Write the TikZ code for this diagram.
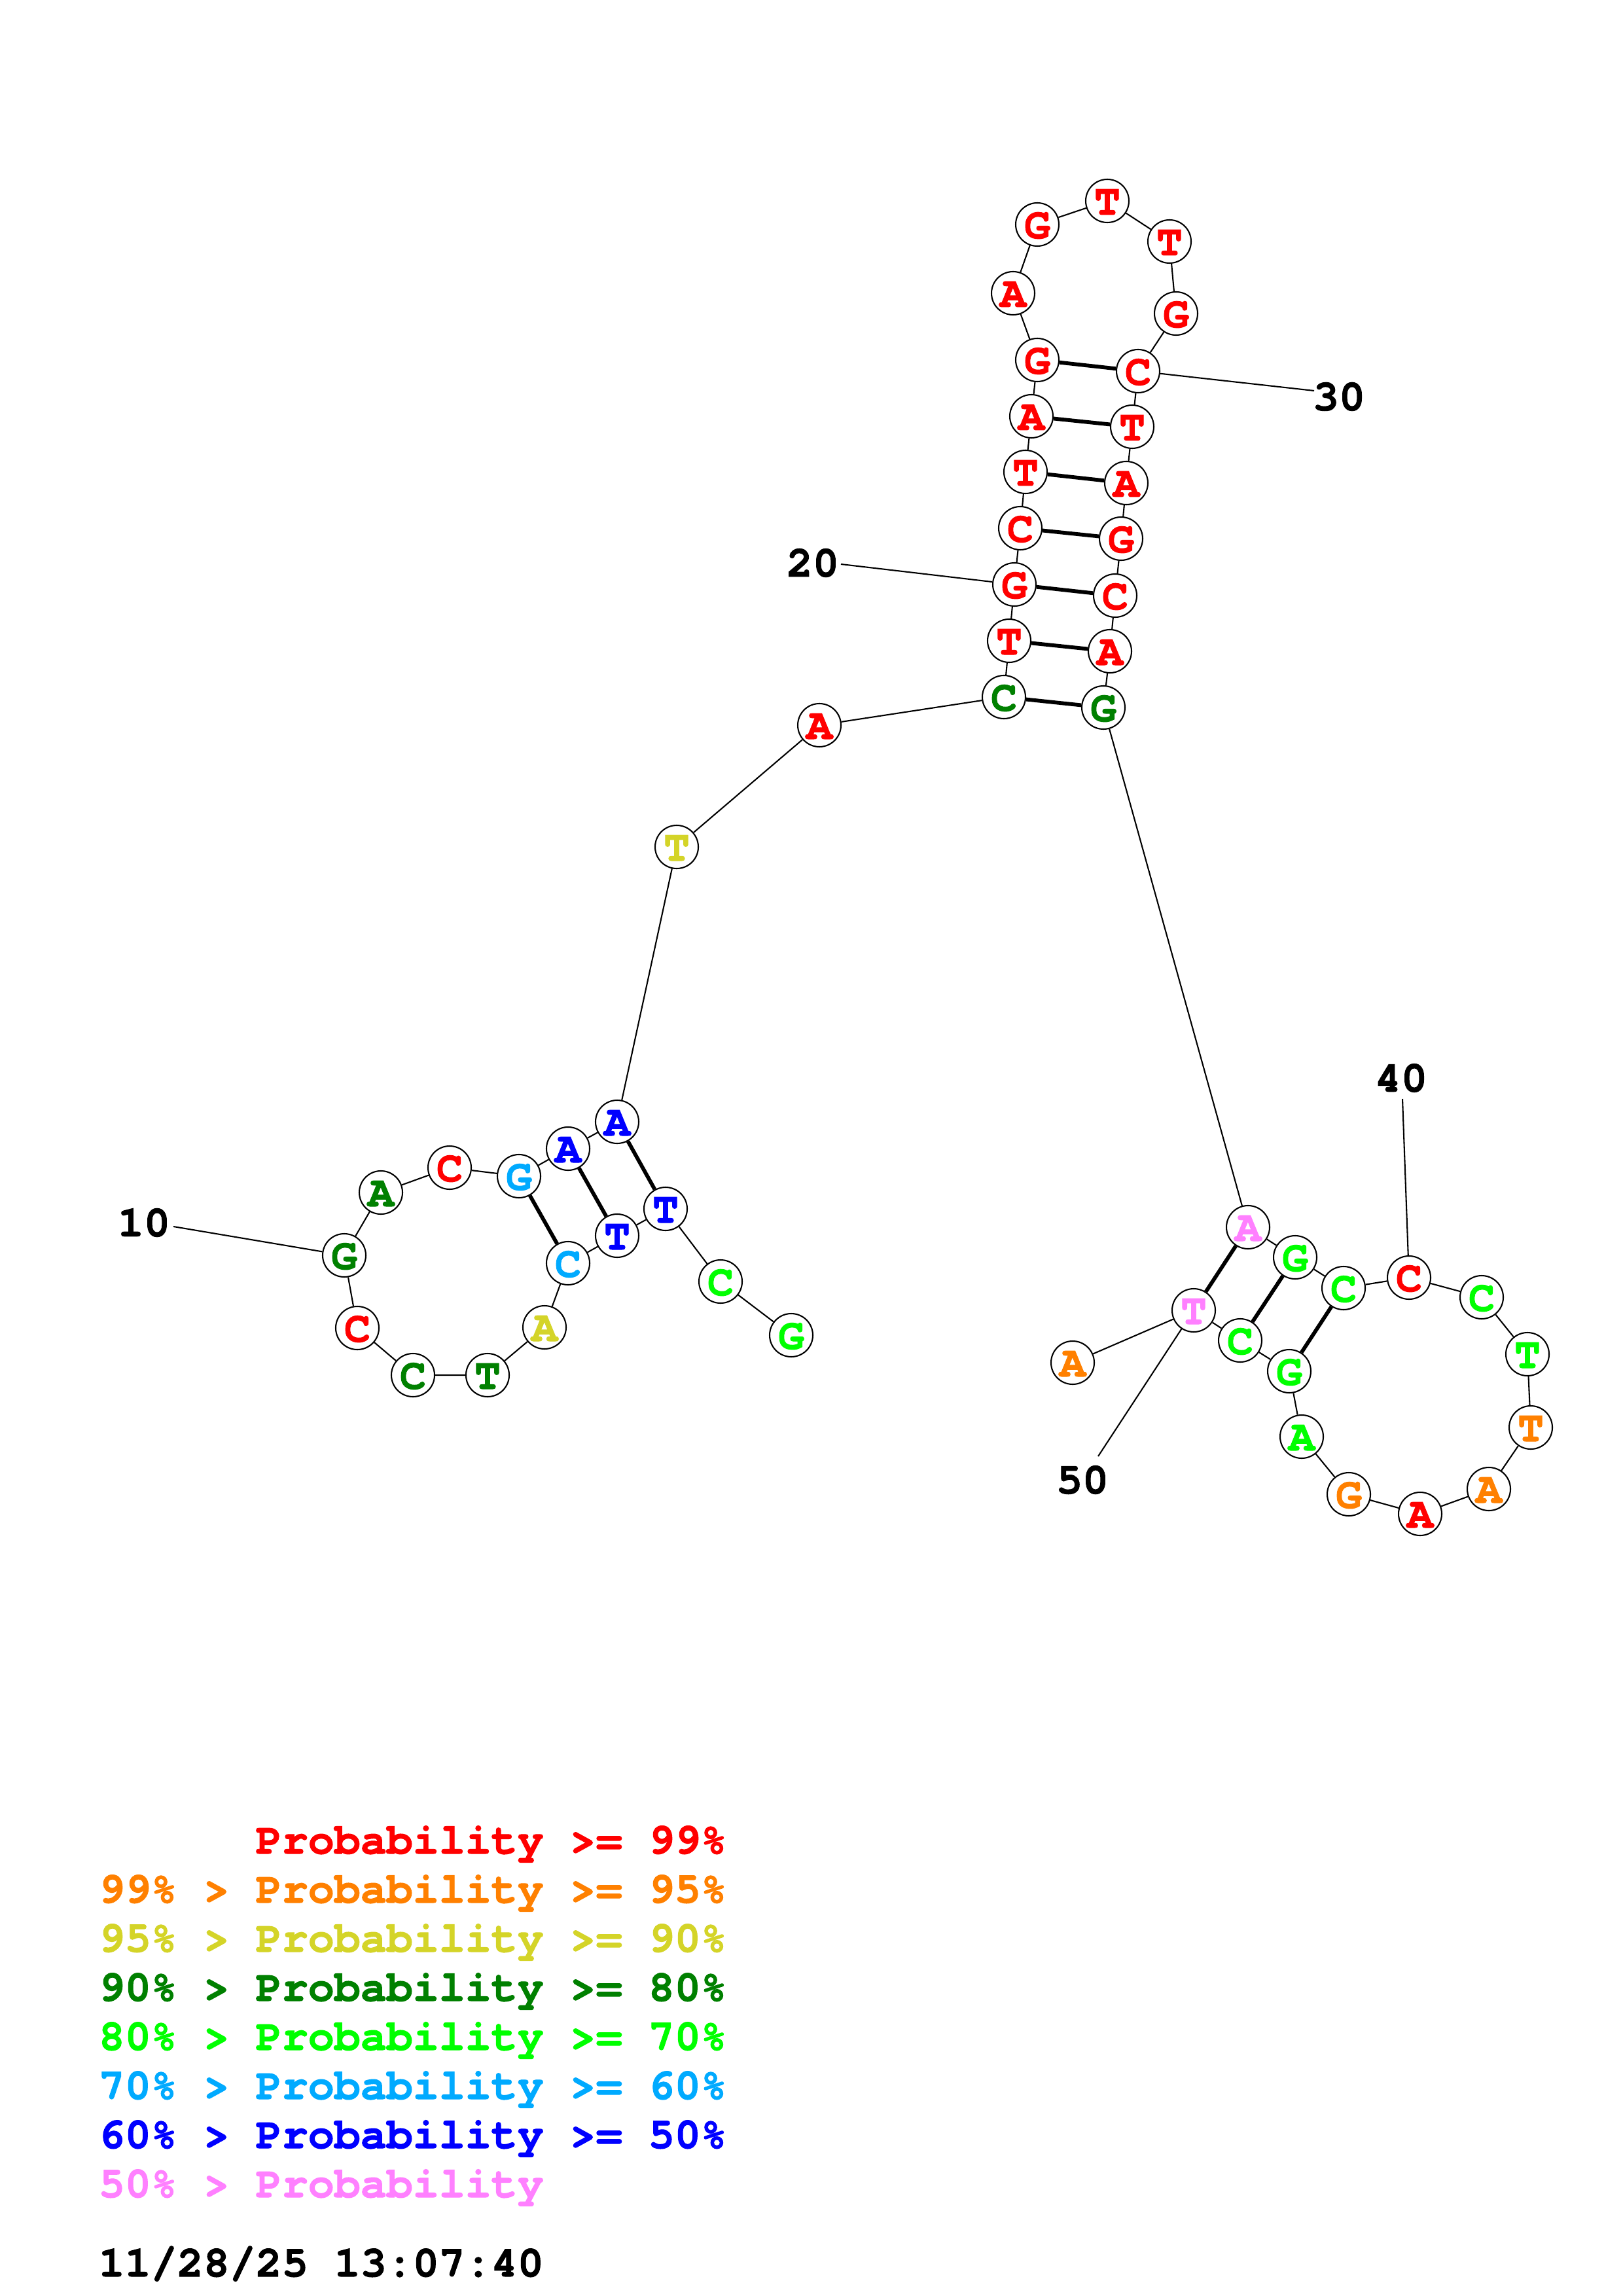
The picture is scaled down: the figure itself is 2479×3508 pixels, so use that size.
\documentclass[tikz,border=0pt]{standalone}
\usepackage{fontspec}
\newfontfamily\cour{TeX Gyre Cursor}[BoldFeatures={FakeBold=1.5}]
\definecolor{cred}{RGB}{255,0,0}
\definecolor{corange}{RGB}{255,128,0}
\definecolor{cyellow}{RGB}{212,212,40}
\definecolor{cdkgreen}{RGB}{0,128,0}
\definecolor{clime}{RGB}{0,255,0}
\definecolor{ccyan}{RGB}{0,170,255}
\definecolor{cblue}{RGB}{0,0,255}
\definecolor{cpink}{RGB}{255,128,255}
\tikzset{
  nt/.style={circle,draw=black,line width=0.5pt,fill=white,minimum size=15.84pt,inner sep=0pt,text height=10.08pt,text depth=0pt},
  bb/.style={line width=0.5pt,draw=black},
  bp/.style={line width=1.4pt,draw=black},
  numlab/.style={inner sep=0pt,text=black},
  leg/.style={anchor=base west,inner sep=0pt}
}
\begin{document}
\begin{tikzpicture}[x=0.24pt,y=-0.24pt,font=\cour\bfseries\fontsize{16}{16}\selectfont]
\fill[white] (0,0) rectangle (2479,3508);
\useasboundingbox (0,0) rectangle (2479,3508);
% nucleotides
\node[nt,text=clime] (n1) at (1209,2040) {G};
\node[nt,text=clime] (n2) at (1101,1958) {C};
\node[nt,text=cblue] (n3) at (1017,1847) {T};
\node[nt,text=cblue] (n4) at (943,1888) {T};
\node[nt,text=ccyan] (n5) at (868,1930) {C};
\node[nt,text=cyellow] (n6) at (832,2028) {A};
\node[nt,text=cdkgreen] (n7) at (745,2101) {T};
\node[nt,text=cdkgreen] (n8) at (631,2101) {C};
\node[nt,text=cred] (n9) at (546,2029) {C};
\node[nt,text=cdkgreen] (n10) at (526,1918) {G};
\node[nt,text=cdkgreen] (n11) at (582,1822) {A};
\node[nt,text=cred] (n12) at (687,1784) {C};
\node[nt,text=ccyan] (n13) at (793,1797) {G};
\node[nt,text=cblue] (n14) at (868,1755) {A};
\node[nt,text=cblue] (n15) at (943,1714) {A};
\node[nt,text=cyellow] (n16) at (1034,1294) {T};
\node[nt,text=cred] (n17) at (1252,1108) {A};
\node[nt,text=cdkgreen] (n18) at (1534,1065) {C};
\node[nt,text=cred] (n19) at (1542,979) {T};
\node[nt,text=cred] (n20) at (1550,893) {G};
\node[nt,text=cred] (n21) at (1559,807) {C};
\node[nt,text=cred] (n22) at (1567,721) {T};
\node[nt,text=cred] (n23) at (1576,636) {A};
\node[nt,text=cred] (n24) at (1585,550) {G};
\node[nt,text=cred] (n25) at (1548,448) {A};
\node[nt,text=cred] (n26) at (1585,343) {G};
\node[nt,text=cred] (n27) at (1692,307) {T};
\node[nt,text=cred] (n28) at (1787,369) {T};
\node[nt,text=cred] (n29) at (1797,479) {G};
\node[nt,text=cred] (n30) at (1739,567) {C};
\node[nt,text=cred] (n31) at (1730,652) {T};
\node[nt,text=cred] (n32) at (1721,738) {A};
\node[nt,text=cred] (n33) at (1713,823) {G};
\node[nt,text=cred] (n34) at (1704,910) {C};
\node[nt,text=cred] (n35) at (1696,995) {A};
\node[nt,text=cdkgreen] (n36) at (1686,1081) {G};
\node[nt,text=cpink] (n37) at (1907,1875) {A};
\node[nt,text=clime] (n38) at (1979,1921) {G};
\node[nt,text=clime] (n39) at (2053,1968) {C};
\node[nt,text=cred] (n40) at (2153,1952) {C};
\node[nt,text=clime] (n41) at (2264,1982) {C};
\node[nt,text=clime] (n42) at (2334,2069) {T};
\node[nt,text=corange] (n43) at (2339,2181) {T};
\node[nt,text=corange] (n44) at (2275,2275) {A};
\node[nt,text=cred] (n45) at (2170,2313) {A};
\node[nt,text=corange] (n46) at (2061,2283) {G};
\node[nt,text=clime] (n47) at (1989,2195) {A};
\node[nt,text=clime] (n48) at (1970,2095) {G};
\node[nt,text=clime] (n49) at (1895,2048) {C};
\node[nt,text=cpink] (n50) at (1824,2002) {T};
\node[nt,text=corange] (n51) at (1639,2082) {A};
% backbone
\draw[bb] (n1)--(n2)--(n3)--(n4)--(n5)--(n6)--(n7)--(n8)--(n9)--(n10)--(n11)--(n12)--(n13)--(n14)--(n15)--(n16)--(n17)--(n18)--(n19)--(n20)--(n21)--(n22)--(n23)--(n24)--(n25)--(n26)--(n27)--(n28)--(n29)--(n30)--(n31)--(n32)--(n33)--(n34)--(n35)--(n36)--(n37)--(n38)--(n39)--(n40)--(n41)--(n42)--(n43)--(n44)--(n45)--(n46)--(n47)--(n48)--(n49)--(n50)--(n51);
% pairs
\draw[bp] (n3)--(n15);
\draw[bp] (n4)--(n14);
\draw[bp] (n5)--(n13);
\draw[bp] (n18)--(n36);
\draw[bp] (n19)--(n35);
\draw[bp] (n20)--(n34);
\draw[bp] (n21)--(n33);
\draw[bp] (n22)--(n32);
\draw[bp] (n23)--(n31);
\draw[bp] (n24)--(n30);
\draw[bp] (n37)--(n50);
\draw[bp] (n38)--(n49);
\draw[bp] (n39)--(n48);
% number labels
\node[numlab] (t10) at (220,1868) {10};
\node[numlab] (t20) at (1242,860) {20};
\node[numlab] (t30) at (2046,606) {30};
\node[numlab] (t40) at (2141,1647) {40};
\node[numlab] (t50) at (1654,2261) {50};
\coordinate (c10) at (265,1874);
\coordinate (c20) at (1285,862);
\coordinate (c30) at (2008,597);
\coordinate (c40) at (2143,1679);
\coordinate (c50) at (1678,2225);
\draw[bb] (c10)--(n10);
\draw[bb] (c20)--(n20);
\draw[bb] (c30)--(n30);
\draw[bb] (c40)--(n40);
\draw[bb] (c50)--(n50);
% legend
\node[leg,text=cred] (g1) at (390,2832) {Probability >= 99\%};
\node[leg,text=corange] (g2) at (150,2907) {99\% > Probability >= 95\%};
\node[leg,text=cyellow] (g3) at (150,2982) {95\% > Probability >= 90\%};
\node[leg,text=cdkgreen] (g4) at (150,3057) {90\% > Probability >= 80\%};
\node[leg,text=clime] (g5) at (150,3132) {80\% > Probability >= 70\%};
\node[leg,text=ccyan] (g6) at (150,3207) {70\% > Probability >= 60\%};
\node[leg,text=cblue] (g7) at (150,3282) {60\% > Probability >= 50\%};
\node[leg,text=cpink] (g8) at (150,3357) {50\% > Probability};
\node[leg,text=black] (g9) at (150,3478) {11/28/25 13:07:40};
\end{tikzpicture}
\end{document}
